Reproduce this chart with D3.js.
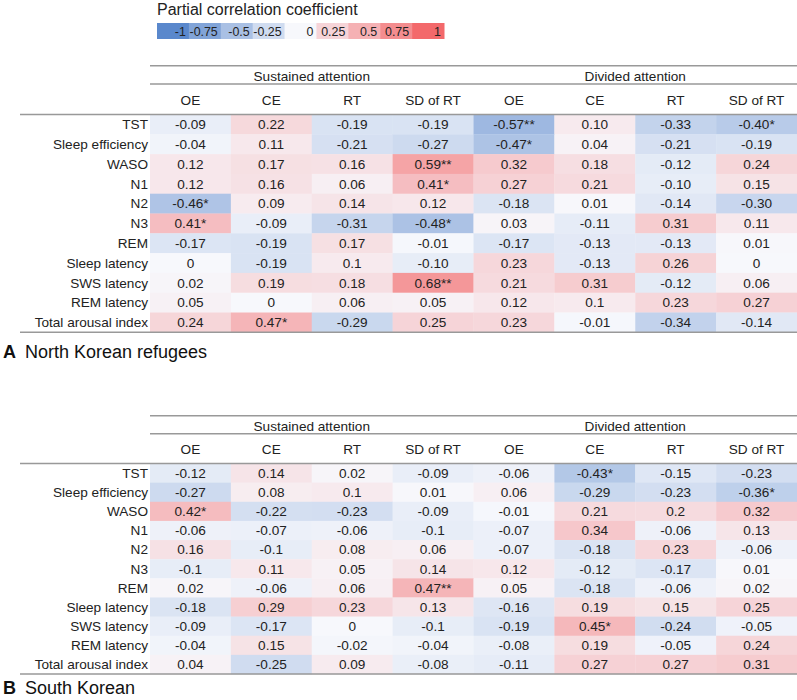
<!DOCTYPE html>
<html><head><meta charset="utf-8">
<script src="https://cdn.jsdelivr.net/npm/d3@7"></script>
<style>
body{margin:0;background:#fff;}
svg{display:block;font-family:"Liberation Sans",Arial,Helvetica,sans-serif;}
</style></head>
<body><svg id="c" width="797" height="700"></svg>
<script>
const legendTicks = [-1, -0.75, -0.5, -0.25, 0, 0.25, 0.5, 0.75, 1];
const legendLabels = ["-1", "-0.75", "-0.5", "-0.25", "0", "0.25", "0.5", "0.75", "1"];
const groups = ["Sustained attention", "Divided attention"];
const columns = ["OE", "CE", "RT", "SD of RT", "OE", "CE", "RT", "SD of RT"];
const rowLabels = ["TST", "Sleep efficiency", "WASO", "N1", "N2", "N3", "REM", "Sleep latency", "SWS latency", "REM latency", "Total arousal index"];

const northKorean = [
  ["-0.09", "0.22", "-0.19", "-0.19", "-0.57**", "0.10", "-0.33", "-0.40*"],
  ["-0.04", "0.11", "-0.21", "-0.27", "-0.47*", "0.04", "-0.21", "-0.19"],
  ["0.12", "0.17", "0.16", "0.59**", "0.32", "0.18", "-0.12", "0.24"],
  ["0.12", "0.16", "0.06", "0.41*", "0.27", "0.21", "-0.10", "0.15"],
  ["-0.46*", "0.09", "0.14", "0.12", "-0.18", "0.01", "-0.14", "-0.30"],
  ["0.41*", "-0.09", "-0.31", "-0.48*", "0.03", "-0.11", "0.31", "0.11"],
  ["-0.17", "-0.19", "0.17", "-0.01", "-0.17", "-0.13", "-0.13", "0.01"],
  ["0", "-0.19", "0.1", "-0.10", "0.23", "-0.13", "0.26", "0"],
  ["0.02", "0.19", "0.18", "0.68**", "0.21", "0.31", "-0.12", "0.06"],
  ["0.05", "0", "0.06", "0.05", "0.12", "0.1", "0.23", "0.27"],
  ["0.24", "0.47*", "-0.29", "0.25", "0.23", "-0.01", "-0.34", "-0.14"]
];
const southKorean = [
  ["-0.12", "0.14", "0.02", "-0.09", "-0.06", "-0.43*", "-0.15", "-0.23"],
  ["-0.27", "0.08", "0.1", "0.01", "0.06", "-0.29", "-0.23", "-0.36*"],
  ["0.42*", "-0.22", "-0.23", "-0.09", "-0.01", "0.21", "0.2", "0.32"],
  ["-0.06", "-0.07", "-0.06", "-0.1", "-0.07", "0.34", "-0.06", "0.13"],
  ["0.16", "-0.1", "0.08", "0.06", "-0.07", "-0.18", "0.23", "-0.06"],
  ["-0.1", "0.11", "0.05", "0.14", "0.12", "-0.12", "-0.17", "0.01"],
  ["0.02", "-0.06", "0.06", "0.47**", "0.05", "-0.18", "-0.06", "0.02"],
  ["-0.18", "0.29", "0.23", "0.13", "-0.16", "0.19", "0.15", "0.25"],
  ["-0.09", "-0.17", "0", "-0.1", "-0.19", "0.45*", "-0.24", "-0.05"],
  ["-0.04", "0.15", "-0.02", "-0.04", "-0.08", "0.19", "-0.05", "0.24"],
  ["0.04", "-0.25", "0.09", "-0.08", "-0.11", "0.27", "0.27", "0.31"]
];

const svg = d3.select("#c");
const textColor = "#222";
const ruleColor = "#999";
const fs = 13.6;
const color = d3.scaleLinear().domain([-1, 0, 1])
  .range(["#5a88cc", "#f7f8fc", "#f3696b"]).clamp(true);

// Legend
svg.append("text").attr("x", 157).attr("y", 14.5).attr("font-size", 16)
  .attr("fill", textColor).text("Partial correlation coefficient");
const lx = d3.scaleBand().domain(legendTicks.map((d, i) => i)).range([157, 444]);
const lg = svg.append("g");
lg.selectAll("rect").data(legendTicks).join("rect")
  .attr("x", (d, i) => lx(i)).attr("y", 23).attr("width", lx.bandwidth() + 0.5).attr("height", 16)
  .attr("fill", d => color(d));
lg.selectAll("text").data(legendLabels).join("text")
  .attr("x", (d, i) => lx(i) + lx.bandwidth() - 3).attr("y", 35.6)
  .attr("text-anchor", "end").attr("font-size", 12.4).attr("fill", textColor).text(d => d);

function drawTable(data, cfg) {
  const g = svg.append("g");
  const x = d3.scaleBand().domain(columns.map((d, i) => i)).range([150, 797]);
  const y = d3.scaleBand().domain(rowLabels.map((d, i) => i)).range([cfg.bodyTop, cfg.bodyBottom]);
  // cells
  data.forEach((row, ri) => {
    g.selectAll(null).data(row).join("rect")
      .attr("x", (d, ci) => x(ci)).attr("y", y(ri))
      .attr("width", x.bandwidth() + 0.3).attr("height", y.bandwidth() + 0.3)
      .attr("fill", d => color(parseFloat(d)));
    g.selectAll(null).data(row).join("text")
      .attr("x", (d, ci) => x(ci) + x.bandwidth() / 2).attr("y", y(ri) + y.bandwidth() / 2 + 4.8)
      .attr("text-anchor", "middle").attr("font-size", fs).attr("fill", textColor)
      .text(d => d);
  });
  // row labels
  g.selectAll(null).data(rowLabels).join("text")
    .attr("x", 148).attr("y", (d, i) => y(i) + y.bandwidth() / 2 + 4.8)
    .attr("text-anchor", "end").attr("font-size", fs).attr("fill", textColor).text(d => d);
  // group headers
  g.selectAll(null).data(groups).join("text")
    .attr("x", (d, i) => (x(i * 4) + x(i * 4 + 3) + x.bandwidth()) / 2)
    .attr("y", cfg.groupY + 4.8).attr("text-anchor", "middle").attr("font-size", fs)
    .attr("fill", textColor).text(d => d);
  // column headers
  g.selectAll(null).data(columns).join("text")
    .attr("x", (d, i) => x(i) + x.bandwidth() / 2).attr("y", cfg.colY + 4.8)
    .attr("text-anchor", "middle").attr("font-size", fs).attr("fill", textColor).text(d => d);
  // rules
  const rules = [
    [150, cfg.topRule], [150, cfg.midRule], [20, cfg.bodyTop], [20, cfg.bodyBottom]
  ];
  g.selectAll(null).data(rules).join("line")
    .attr("x1", d => d[0]).attr("x2", 797).attr("y1", d => d[1]).attr("y2", d => d[1])
    .attr("stroke", ruleColor).attr("stroke-width", 1.5);
  // panel label
  const t = g.append("text").attr("x", 3).attr("y", cfg.labelY).attr("font-size", 18).attr("fill", "#111");
  t.append("tspan").attr("font-weight", "bold").text(cfg.letter);
  t.append("tspan").attr("x", 25).text(cfg.title);
}

drawTable(northKorean, {topRule: 65.7, midRule: 84, groupY: 75.7, colY: 100, bodyTop: 114.5, bodyBottom: 332.3,
  labelY: 358, letter: "A", title: "North Korean refugees"});
drawTable(southKorean, {topRule: 415.7, midRule: 433.7, groupY: 425.7, colY: 449, bodyTop: 463.5, bodyBottom: 674,
  labelY: 694, letter: "B", title: "South Korean"});
</script></body></html>
